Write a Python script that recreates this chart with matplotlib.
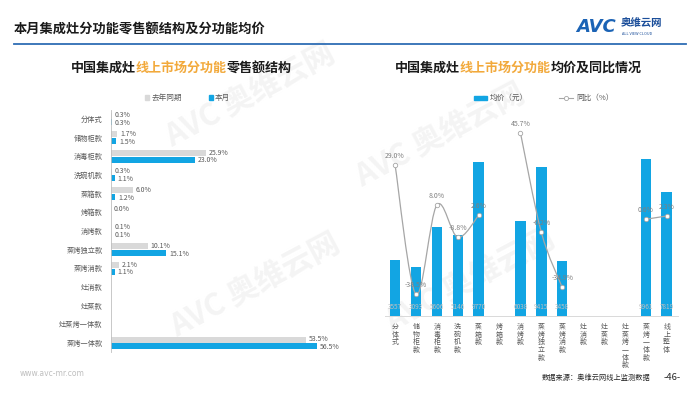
import numpy as np
import matplotlib
matplotlib.use('Agg')
import matplotlib.pyplot as plt
from matplotlib.path import Path
from matplotlib.patches import PathPatch, Rectangle
from matplotlib.lines import Line2D

plt.rcParams['font.family'] = ['Noto Sans CJK SC', 'DejaVu Sans']

nan = np.nan
# left chart: share of online retail sales by function (%)
left_cats = ['分体式', '储物柜款', '消毒柜款', '洗碗机款', '蒸箱款', '烤箱款', '消烤款',
             '蒸烤独立款', '蒸烤消款', '灶消款', '灶蒸款', '灶蒸烤一体款', '蒸烤一体款']
last_year = [0.3, 1.7, 25.9, 0.3, 6.0, 0.0, 0.1, 10.1, 2.1, nan, nan, nan, 53.5]
this_month = [0.3, 1.5, 23.0, 1.1, 1.2, nan, 0.1, 15.1, 1.1, nan, nan, nan, 56.5]

# right chart: average price (yuan) and yoy (%)
right_cats = ['分体式', '储物柜款', '消毒柜款', '洗碗机款', '蒸箱款', '烤箱款', '消烤款',
              '蒸烤独立款', '蒸烤消款', '灶消款', '灶蒸款', '灶蒸烤一体款', '蒸烤一体款', '线上整体']
avg_price = [3557, 3093, 5606, 5146, 9770, nan, 6038, 9415, 3458, nan, nan, nan, 9961, 7819]
yoy = [29.0, -38.5, 8.0, -8.8, 2.6, nan, 45.7, -6.2, -34.9, nan, nan, nan, 0.6, 2.3]

BLUE = '#12A5E3'
GREY = '#D9D9D9'
TXT = '#595959'
ORANGE = '#F2A93B'

W, H = 700, 394
fig = plt.figure(figsize=(7, 3.94), dpi=100)


def fx(px):
    return px / W


def fy(py):
    return 1 - py / H


# watermarks (behind everything)
for (cx, cy) in [(250, 95), (255, 285), (440, 135), (470, 280)]:
    fig.text(fx(cx), fy(cy), 'AVC 奥维云网', fontsize=22, fontweight='bold', color='#F4F4F4',
             rotation=28, ha='center', va='center', zorder=-5)

# header
fig.text(fx(14), fy(29), '本月集成灶分功能零售额结构及分功能均价', fontsize=9.5,
         fontweight='bold', color='#1a1a1a', va='center')
fig.add_artist(Line2D([fx(14), fx(686)], [fy(44), fy(44)], color='#2E6DB4', lw=1.3))
fig.text(fx(576), fy(27), 'AVC', fontsize=13, fontweight='bold', style='italic',
         color='#1B63B5', va='center', family='DejaVu Sans')
fig.text(fx(621), fy(23), '奥维云网', fontsize=7.5, fontweight='bold', color='#1B4E9A', va='center')
fig.text(fx(622), fy(34), 'ALL VIEW CLOUD', fontsize=2.8, color='#1B4E9A', va='center')

fig.canvas.draw()
renderer = fig.canvas.get_renderer()


def multi_title(cx, cy, parts, size):
    texts = []
    x = 0
    for s, c in parts:
        t = fig.text(0, fy(cy), s, fontsize=size, fontweight='bold', color=c, va='center')
        w = t.get_window_extent(renderer).width
        texts.append((t, x))
        x += w
    start = cx - x / 2
    for t, off in texts:
        t.set_x(fx(start + off))


multi_title(181, 68, [('中国集成灶', '#1a1a1a'), ('线上市场分功能', ORANGE), ('零售额结构', '#1a1a1a')], 9.4)
multi_title(518, 68, [('中国集成灶', '#1a1a1a'), ('线上市场分功能', ORANGE), ('均价及同比情况', '#1a1a1a')], 9.4)

# ---- left chart ----
axL = fig.add_axes([fx(111), fy(352.3), (330 - 111) / W, (352.3 - 109.7) / H])
y = np.arange(len(left_cats))
axL.barh(y - 0.18, last_year, height=0.33, color=GREY)
axL.barh(y + 0.18, this_month, height=0.33, color=BLUE)
axL.set_xlim(0, 60)
axL.set_ylim(len(left_cats) - 0.5, -0.5)
for i in range(len(left_cats)):
    if not np.isnan(last_year[i]):
        axL.annotate(f'{last_year[i]:.1f}%', (last_year[i], i - 0.2), xytext=(2, 0),
                     textcoords='offset points', fontsize=5, color=TXT, va='center')
    if not np.isnan(this_month[i]):
        axL.annotate(f'{this_month[i]:.1f}%', (this_month[i], i + 0.22), xytext=(2, 0),
                     textcoords='offset points', fontsize=5, color=TXT, va='center')
axL.set_yticks(y)
axL.set_yticklabels(left_cats, fontsize=5.2, color=TXT)
axL.tick_params(axis='y', length=0, pad=6)
axL.set_xticks([])
for s in ['top', 'right', 'bottom']:
    axL.spines[s].set_visible(False)
axL.spines['left'].set_color('#BFBFBF')
axL.spines['left'].set_linewidth(0.6)
axL.patch.set_alpha(0)

# left legend
fig.add_artist(Rectangle((fx(145), fy(99.5)), 4 / W, 4 / H, color=GREY))
fig.text(fx(152), fy(97.5), '去年同期', fontsize=5.5, color=TXT, va='center')
fig.add_artist(Rectangle((fx(209), fy(99.5)), 4 / W, 4 / H, color=BLUE))
fig.text(fx(215), fy(97.5), '本月', fontsize=5.5, color=TXT, va='center')

# ---- right chart ----
axR = fig.add_axes([fx(385), fy(316), (678 - 385) / W, 196 / H])
xr = np.arange(len(right_cats))
axR.bar(xr, avg_price, width=0.5, color=BLUE, zorder=2)
axR.set_xlim(-0.48, len(right_cats) - 0.46)
axR.set_ylim(0, 12400)
axR.set_yticks([])
axR.set_xticks([])
for s in ['top', 'right', 'left']:
    axR.spines[s].set_visible(False)
axR.spines['bottom'].set_color('#D9D9D9')
axR.spines['bottom'].set_linewidth(0.7)
axR.patch.set_alpha(0)
for i, v in enumerate(avg_price):
    if not np.isnan(v):
        axR.annotate(f'{v:.0f}', (i, 0), xytext=(0, 6.5), textcoords='offset points',
                     fontsize=4.6, color='#BFBFBF', ha='center', va='center', zorder=3)
for i, c in enumerate(right_cats):
    axR.annotate('\n'.join(c), (i, 0), xytext=(0, -5), textcoords='offset points',
                 fontsize=5, color=TXT, ha='center', va='top', linespacing=0.95,
                 annotation_clip=False)

ax2 = axR.twinx()
ax2.set_ylim(-49.8, 52.3)
ax2.set_yticks([])
for s in ax2.spines.values():
    s.set_visible(False)

yv = np.array(yoy)
segs = []
cur = []
for i in range(len(yv)):
    if np.isnan(yv[i]):
        if cur:
            segs.append(cur)
        cur = []
    else:
        cur.append(i)
if cur:
    segs.append(cur)

for seg in segs:
    pts = np.array([[i, yv[i]] for i in seg], dtype=float)
    verts = [pts[0]]
    codes = [Path.MOVETO]
    n = len(pts)
    for k in range(n - 1):
        p0 = pts[k - 1] if k > 0 else pts[k]
        p1 = pts[k]
        p2 = pts[k + 1]
        p3 = pts[k + 2] if k + 2 < n else pts[k + 1]
        c1 = p1 + (p2 - p0) / 6
        c2 = p2 - (p3 - p1) / 6
        verts += [c1, c2, p2]
        codes += [Path.CURVE4] * 3
    ax2.add_patch(PathPatch(Path(verts, codes), fill=False, edgecolor='#A6A6A6', lw=0.9, zorder=3))
ax2.plot(xr, yv, ls='none', marker='o', ms=3.2, mfc='white', mec='#A6A6A6', mew=0.6, zorder=4)
for i, v in enumerate(yv):
    if not np.isnan(v):
        ax2.annotate(f'{v:.1f}%', (i, v), xytext=(0, 6.5), textcoords='offset points',
                     fontsize=5, color='#7F7F7F', ha='center', va='center', zorder=5)

# right legend
fig.add_artist(Rectangle((fx(474), fy(100)), 13 / W, 4 / H, color=BLUE))
fig.text(fx(490), fy(98), '均价（元）', fontsize=5.5, color=TXT, va='center')
fig.add_artist(Line2D([fx(559), fx(573)], [fy(98), fy(98)], color='#A6A6A6', lw=0.8))
fig.add_artist(Line2D([fx(566)], [fy(98)], color='#A6A6A6', marker='o', ms=3, mfc='white',
                      mew=0.6, ls='none'))
fig.text(fx(576), fy(98), '同比（%）', fontsize=5.5, color=TXT, va='center')

# footer
fig.text(fx(20), fy(374), 'www.avc-mr.com', fontsize=5.5, color='#BFBFBF', va='center',
         family='DejaVu Sans')
fig.text(fx(542), fy(378), '数据来源：奥维云网线上监测数据', fontsize=5.2, color='#262626', va='center')
fig.text(fx(664), fy(378), '-46-', fontsize=6.8, color='#262626', va='center')

fig.savefig('out.png', dpi=100)
